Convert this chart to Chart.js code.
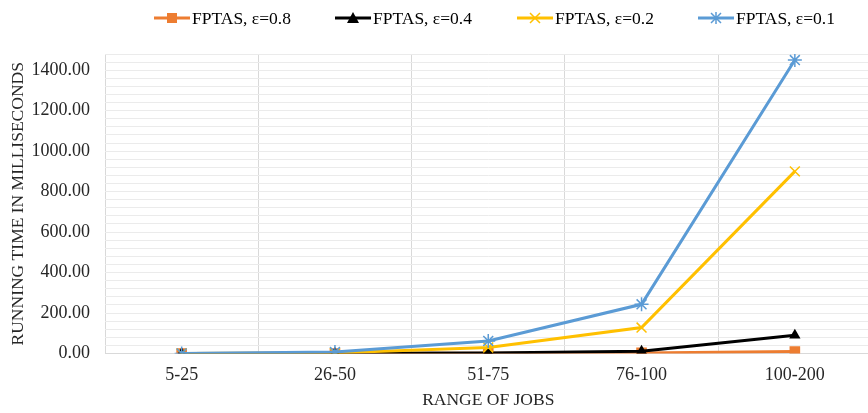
<!DOCTYPE html>
<html>
<head>
<meta charset="utf-8">
<script src="https://cdn.jsdelivr.net/npm/chart.js@4.4.1/dist/chart.umd.min.js"></script>
<style>
  html, body { margin: 0; padding: 0; background: #fff; overflow: hidden; }
  #wrap { width: 880px; height: 413px; position: relative; }
</style>
</head>
<body>
<div id="wrap"><canvas id="chart"></canvas></div>
<script>
// Job ranges on the x axis
const ranges = ['5-25', '26-50', '51-75', '76-100', '100-200'];

// Running time (ms)
const eps08 = [0.05, 0.3, 1, 3, 10];
const eps04 = [0.1, 1, 3, 11, 90];
const eps02 = [0.2, 3, 30, 128, 900];
const eps01 = [0.5, 7, 62, 243, 1450];

const seriesNames = ['FPTAS, ε=0.8', 'FPTAS, ε=0.4', 'FPTAS, ε=0.2', 'FPTAS, ε=0.1'];
const seriesColors = ['#ED7D31', '#000000', '#FFC000', '#5B9BD5'];
const seriesMarkers = ['rect', 'triangle', 'crossRot', 'star'];

// y axis: light lines every 40, labels every 200
const yMax = 1480;
const yStep = 40;
const yLabelStep = 200;

const FONT = 'Liberation Serif, Times New Roman, serif';

// draws a marker like the excel ones
function drawMarker(ctx, style, color, x, y, size) {
    ctx.save();
    ctx.fillStyle = color;
    ctx.strokeStyle = color;
    ctx.lineWidth = 1.5;
    ctx.beginPath();
    if (style === 'rect') {
        ctx.fillRect(x - size / 2, y - size / 2, size, size);
    } else if (style === 'triangle') {
        ctx.moveTo(x, y - size / 2 - 1);
        ctx.lineTo(x + size / 2 + 1, y + size / 2);
        ctx.lineTo(x - size / 2 - 1, y + size / 2);
        ctx.closePath();
        ctx.fill();
    } else {
        const h = size / 2;
        ctx.moveTo(x - h, y - h); ctx.lineTo(x + h, y + h);
        ctx.moveTo(x + h, y - h); ctx.lineTo(x - h, y + h);
        if (style === 'star') {
            ctx.moveTo(x, y - h - 1); ctx.lineTo(x, y + h + 1);
        }
        ctx.stroke();
    }
    ctx.restore();
}

// Legend drawn on the canvas: short line with marker, then the name
const lineLegend = {
    id: 'lineLegend',
    afterDraw(chart) {
        const ctx = chart.ctx;
        const startX = [154, 335, 517, 698];
        const y = 18;
        ctx.save();
        ctx.font = '17.5px ' + FONT;
        ctx.textBaseline = 'middle';
        chart.data.datasets.forEach((ds, i) => {
            const x = startX[i];
            ctx.strokeStyle = ds.borderColor;
            ctx.lineWidth = 3;
            ctx.beginPath();
            ctx.moveTo(x, y);
            ctx.lineTo(x + 36, y);
            ctx.stroke();
            drawMarker(ctx, seriesMarkers[i], ds.borderColor, x + 18, y, 10);
            ctx.fillStyle = '#000';
            ctx.fillText(ds.label, x + 38, y + 1);
        });
        ctx.restore();
    }
};

const datasets = [eps08, eps04, eps02, eps01].map((vals, i) => ({
    label: seriesNames[i],
    data: vals,
    borderColor: seriesColors[i],
    backgroundColor: seriesColors[i],
    borderWidth: 3,
    pointStyle: seriesMarkers[i],
    pointRadius: i === 0 ? 7.5 : (i === 1 ? 6.5 : 7),
    pointBorderWidth: i < 2 ? 0 : 1.5,
    pointBackgroundColor: seriesColors[i],
    pointBorderColor: seriesColors[i],
    tension: 0,
    order: 4 - i
}));

new Chart(document.getElementById('chart'), {
    type: 'line',
    data: { labels: ranges, datasets: datasets },
    options: {
        responsive: true,
        maintainAspectRatio: false,
        animation: false,
        layout: { padding: { top: 54, right: 6, left: 0, bottom: 0 } },
        plugins: {
            legend: { display: false },
            tooltip: { enabled: false }
        },
        scales: {
            x: {
                offset: true,
                grid: { offset: true, color: '#d9d9d9', lineWidth: 1, drawTicks: false },
                border: { color: '#d9d9d9' },
                ticks: { color: '#262626', font: { family: FONT, size: 18 }, padding: 11 },
                title: {
                    display: true, text: 'RANGE OF JOBS', color: '#262626',
                    font: { family: FONT, size: 17.5 }, padding: { top: 3, bottom: 2 }
                },
                afterFit: s => { s.height = 59.5; }
            },
            y: {
                min: 0,
                max: yMax,
                grid: { color: '#ebebeb', lineWidth: 1, drawTicks: false },
                border: { display: false },
                ticks: {
                    stepSize: yStep,
                    autoSkip: false,
                    color: '#262626',
                    font: { family: FONT, size: 18 },
                    padding: 15,
                    callback: v => (v % yLabelStep === 0 ? v.toFixed(2) : '')
                },
                title: {
                    display: true, text: 'RUNNING TIME IN MILLISECONDS', color: '#262626',
                    font: { family: FONT, size: 17.5 }, padding: { top: 7.5, bottom: 4 }
                },
                afterFit: s => { s.width = 105; }
            }
        }
    },
    plugins: [lineLegend]
});
</script>
</body>
</html>
